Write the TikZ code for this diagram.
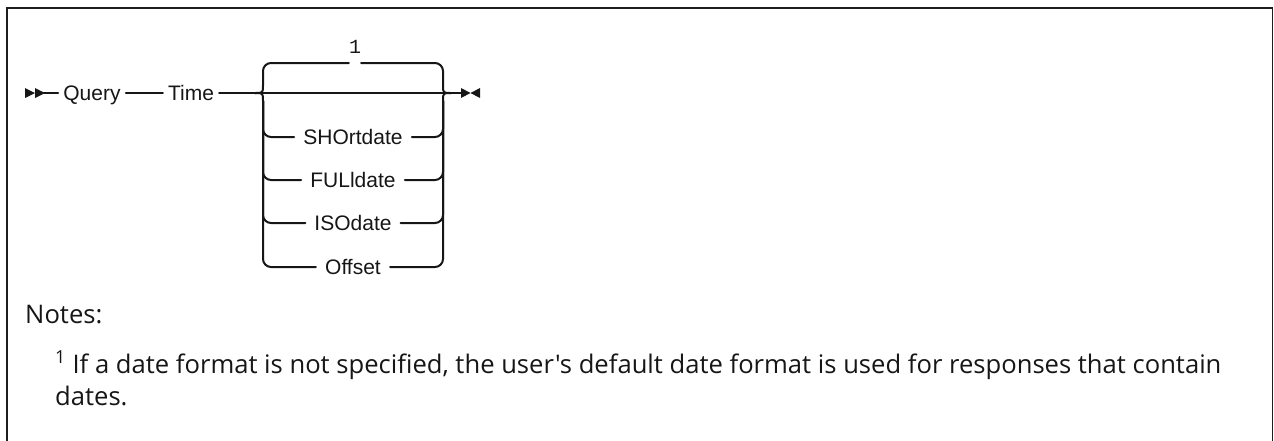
\documentclass[tikz,border=0pt]{standalone}
\usepackage{fontspec}
\newfontfamily\railfont{Liberation Sans}
\newfontfamily\notefont{Open Sans}
\newfontfamily\digitfont{Liberation Mono}
\usepackage{tikz}
\usetikzlibrary{positioning,calc}
\definecolor{railink}{RGB}{22,22,22}
\definecolor{framegray}{RGB}{30,30,30}
\tikzset{
  rail/.style={line width=2pt,draw=railink,line cap=round},
  kw/.style={font=\railfont\fontsize{21}{24}\selectfont,inner xsep=5pt,inner ysep=0pt,
    text height=15pt,text depth=0pt},
  optkw/.style={kw,inner xsep=9pt},
  fnref/.style={font=\digitfont\fontsize{20}{22}\selectfont,inner sep=0pt},
  note/.style={font=\notefont\fontsize{25.6}{32}\selectfont,inner sep=0pt},
  tipmark/.style={fill=railink},
  frameline/.style={draw=framegray,line width=2.5pt},
}

\begin{document}
\begin{tikzpicture}[x=1pt,y=-1pt,every node/.style={text=railink}]
  \useasboundingbox (0,0) rectangle (1274,440);
  % frame, open at the bottom
  \draw[frameline] (7,442) -- (7,8) -- (1272.5,8);
  \draw[draw=framegray,line width=1.4pt] (1272.5,8) -- (1272.5,442);

  % main line
  \coordinate (start) at (25,93);
  \node[kw] (query) at (92,93) {Query};
  \node[kw] (time) at (191,93) {Time};
  \coordinate (lt) at (255,93);
  \coordinate (rt) at (451,93);
  \coordinate (stop) at (461,93);
  \coordinate (topl) at (263,63);
  \coordinate (topr) at (443,63);

  \fill[tipmark] (start) ++(0,-5) -- ++(0,10) -- ++(10,-5) -- cycle;
  \fill[tipmark] ([xshift=10pt]start) ++(0,-5) -- ++(0,10) -- ++(10,-5) -- cycle;
  \draw[rail] ([xshift=19pt]start) -- (query);
  \draw[rail] (query) -- (time);
  \draw[rail] (time) -- (lt);
  \draw[rail] (lt) -- (rt) -- (stop);
  \fill[tipmark] (stop) ++(0,-5) -- ++(0,10) -- ++(9.5,-5) -- cycle;
  \fill[tipmark] ([xshift=19pt]stop) ++(0,-5) -- ++(0,10) -- ++(-9.5,-5) -- cycle;

  % default value (top loop)
  \node[fnref,anchor=south] (one) at (355,54) {1};
  \draw[rail] (lt) .. controls (263,93) .. (263,85);
  \draw[rail,rounded corners=8pt] (263,85) |- (one.south west |- topl);
  \draw[rail,rounded corners=8pt] (one.south east |- topr) -| (443,85);
  \draw[rail] (443,85) .. controls (443,93) .. (rt);

  % choices
  \draw[rail] (lt) .. controls (263,93) .. (263,101);
  \draw[rail] (rt) .. controls (443,93) .. (443,101);
  \foreach \nm/\txt/\y in {sho/SHOrtdate/137,ful/FULldate/180,iso/ISOdate/223,off/Offset/267}{
    \node[optkw] (\nm) at (353,\y) {\txt};
    \draw[rail,rounded corners=8pt] (263,101) |- (\nm.west);
    \draw[rail,rounded corners=8pt] (\nm.east) -| (443,101);
  }

  % notes
  \node[note,anchor=base west] (notes) at (25,323) {Notes:};
  \node[note,anchor=base west] (fna) at (55,373)
    {\textsuperscript{1} If a date format is not specified, the user's default date format is used for responses that contain};
  \node[note,anchor=base west] (fnb) at (55,405) {dates.};
\end{tikzpicture}
\end{document}
